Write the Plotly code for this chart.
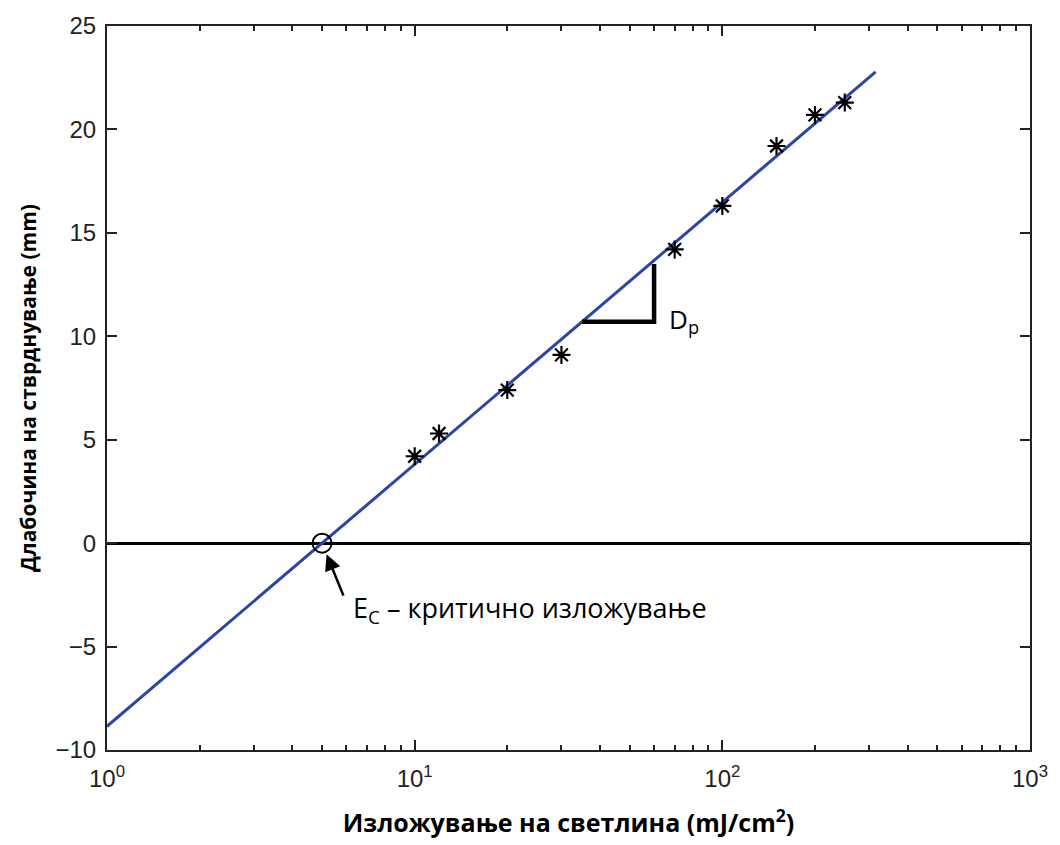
import numpy as np
import plotly.graph_objects as go

# Measured cure depth vs. exposure
exposure = [10, 12, 20, 30, 70, 100, 150, 200, 250]          # mJ/cm^2
cure_depth = [4.2, 5.3, 7.4, 9.1, 14.2, 16.3, 19.2, 20.7, 21.3]  # mm

# Working curve: Cd = Dp * ln(E / Ec)
Dp = 5.5
Ec = 5.0
fit_E = [1.0, 315.0]

# Slope indicator (one step along the working curve)
tri_E = [35.0, 60.0, 60.0]

x_tickvals = [1, 10, 100, 1000]
x_ticktext = ["10<sup>0</sup>", "10<sup>1</sup>", "10<sup>2</sup>", "10<sup>3</sup>"]
y_tickvals = [-10, -5, 0, 5, 10, 15, 20, 25]
y_ticktext = ["\u221210", "\u22125", "0", "5", "10", "15", "20", "25"]
minor_vals = [m * 10 ** d for d in range(3) for m in range(2, 10)]


def working_curve(e):
    return Dp * np.log(np.asarray(e, dtype=float) / Ec)


fit_depth = working_curve(fit_E)
tri_depth = [float(working_curve(tri_E[0])), float(working_curve(tri_E[0])), 13.5]

LABEL_FONT = "'Open Sans', Lato, sans-serif"
TICK_FONT = "'Liberation Sans', Arial, sans-serif"

fig = go.Figure()

fig.add_trace(go.Scatter(
    x=fit_E, y=fit_depth, mode="lines",
    line=dict(color="#2C44A6", width=3), showlegend=False,
))

fig.add_trace(go.Scatter(
    x=tri_E, y=tri_depth, mode="lines",
    line=dict(color="black", width=4.5), showlegend=False,
))

fig.add_trace(go.Scatter(
    x=exposure, y=cure_depth, mode="markers",
    marker=dict(symbol="asterisk-open", size=15, color="black",
                line=dict(color="black", width=2.2)),
    showlegend=False,
))

fig.add_trace(go.Scatter(
    x=[Ec], y=[0], mode="markers",
    marker=dict(symbol="circle-open", size=19, color="black",
                line=dict(color="black", width=2)),
    showlegend=False,
))

# Arrow pointing at Ec
fig.add_annotation(
    x=np.log10(Ec), y=0, xref="x", yref="y",
    ax=22, ay=54, axref="pixel", ayref="pixel",
    text="", showarrow=True, arrowhead=2, arrowsize=1.3,
    arrowwidth=2.5, arrowcolor="black", standoff=12,
)
fig.add_annotation(
    x=np.log10(6.2), y=-3.2, xref="x", yref="y",
    xanchor="left", yanchor="middle", showarrow=False,
    text="E<sub>C</sub> \u2013 критично изложување",
    font=dict(family=LABEL_FONT, size=27, color="black"),
)
fig.add_annotation(
    x=np.log10(66), y=10.8, xref="x", yref="y",
    xanchor="left", yanchor="middle", showarrow=False,
    text="D<sub>p</sub>",
    font=dict(family=LABEL_FONT, size=26, color="black"),
)

axis_common = dict(
    showline=True, linecolor="#222", linewidth=2, mirror="ticks",
    ticks="inside", ticklen=10, tickwidth=1.5, tickcolor="#222",
    showgrid=False,
    tickfont=dict(family=TICK_FONT, size=24, color="#222"),
)

fig.update_xaxes(
    type="log", range=[0, 3],
    tickvals=x_tickvals, ticktext=x_ticktext,
    minor=dict(tickvals=minor_vals, ticks="inside", ticklen=5,
               tickwidth=1.5, tickcolor="#222", showgrid=False),
    title=dict(text="<b>Изложување на светлина (mJ/cm<sup>2</sup>)</b>",
               font=dict(family=LABEL_FONT, size=25, color="black"),
               standoff=24),
    zeroline=False,
    ticklabelstandoff=6,
    **axis_common,
)
fig.update_yaxes(
    range=[-10, 25],
    tickvals=y_tickvals, ticktext=y_ticktext,
    zeroline=True, zerolinecolor="black", zerolinewidth=2.5,
    title=dict(text="<b>Длабочина на стврднување (mm)</b>",
               font=dict(family=LABEL_FONT, size=21, color="black"),
               standoff=13),
    ticklabelstandoff=4,
    **axis_common,
)

fig.update_layout(
    width=1060, height=845,
    margin=dict(l=107, r=27, t=24, b=94),
    plot_bgcolor="white", paper_bgcolor="white",
)

fig.write_html("out.html")
